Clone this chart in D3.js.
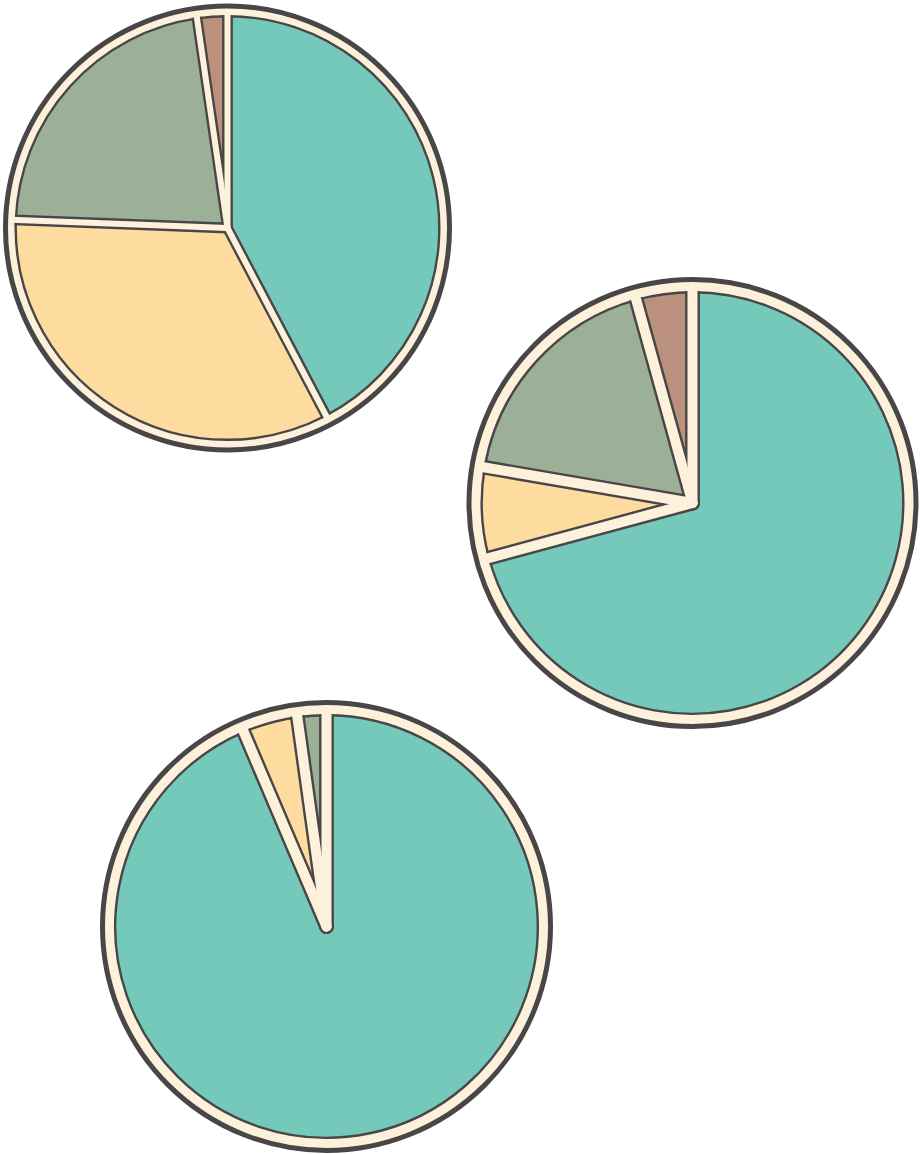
<!DOCTYPE html>
<html>
<head>
<meta charset="utf-8">
<script src="https://cdn.jsdelivr.net/npm/d3@7"></script>
<style>
  body { margin: 0; background: #fff; }
</style>
</head>
<body>
<div id="chart"></div>
<script>
const width = 921,
    height = 1154;

// slice order, clockwise from 12 o'clock
const categories = ["a", "b", "c", "d"];
const pieA = [42.3, 33.3, 22.1, 2.3];
const pieB = [70.8, 6.9, 18.0, 4.3];
const pieC = [93.6, 4.2, 2.2, 0];

const dark = "#484646",
    cream = "#fef1dc";

const color = d3.scaleOrdinal()
    .domain(categories)
    .range(["#75c9bb", "#fedca0", "#9bb097", "#bb917e"]);

// where each pie sits: centre, outer edge of the ring, width of the gaps
const pies = [
  { values: pieA, cx: 227.5, cy: 228, R: 224.5, ring: 6.5, gap: 6 },
  { values: pieB, cx: 692.5, cy: 503, R: 226, ring: 9, gap: 10 },
  { values: pieC, cx: 326.5, cy: 926.5, R: 226.5, ring: 9, gap: 10 }
];

const svg = d3.select("#chart")
    .append("svg")
    .attr("width", width)
    .attr("height", height);

const pie = d3.pie().sort(null).value(d => d.v);
const ringStroke = 5,
    lineW = 2.4;

pies.forEach(function (p, i) {
  const data = pie(p.values.map((v, k) => ({ k: categories[k], v: v })))
      .filter(d => d.data.v > 0);
  const rs = p.R - ringStroke - p.ring - lineW / 2; // slice radius
  const arc = d3.arc().innerRadius(0).outerRadius(rs);

  const g = svg.append("g")
      .attr("transform", "translate(" + p.cx + "," + p.cy + ")");

  const defs = g.append("defs");
  defs.append("clipPath").attr("id", "clipDark" + i)
    .append("circle").attr("r", rs + lineW / 2);
  defs.append("clipPath").attr("id", "clipCream" + i)
    .append("circle").attr("r", rs + 4);

  // cream background ring
  g.append("circle")
      .attr("r", p.R - ringStroke / 2)
      .attr("fill", cream);

  g.selectAll("path.slice")
    .data(data)
    .enter()
    .append("path")
      .attr("class", "slice")
      .attr("d", arc)
      .attr("fill", d => color(d.data.k))
      .attr("stroke", dark)
      .attr("stroke-width", lineW);

  // gaps between slices: dark band, then cream band on top
  const band = function (d) {
    const a = d.startAngle, r = rs + 10;
    return "M0,0L" + (r * Math.sin(a)) + "," + (-r * Math.cos(a));
  };

  g.append("g").attr("clip-path", "url(#clipDark" + i + ")")
    .selectAll("path")
    .data(data)
    .enter()
    .append("path")
      .attr("d", band)
      .attr("stroke", dark)
      .attr("stroke-width", p.gap + 2 * lineW)
      .attr("stroke-linecap", "round")
      .attr("fill", "none");

  g.append("g").attr("clip-path", "url(#clipCream" + i + ")")
    .selectAll("path")
    .data(data)
    .enter()
    .append("path")
      .attr("d", band)
      .attr("stroke", cream)
      .attr("stroke-width", p.gap)
      .attr("stroke-linecap", "round")
      .attr("fill", "none");

  // outer dark ring
  g.append("circle")
      .attr("r", p.R - ringStroke / 2)
      .attr("fill", "none")
      .attr("stroke", dark)
      .attr("stroke-width", ringStroke);
});
</script>
</body>
</html>
